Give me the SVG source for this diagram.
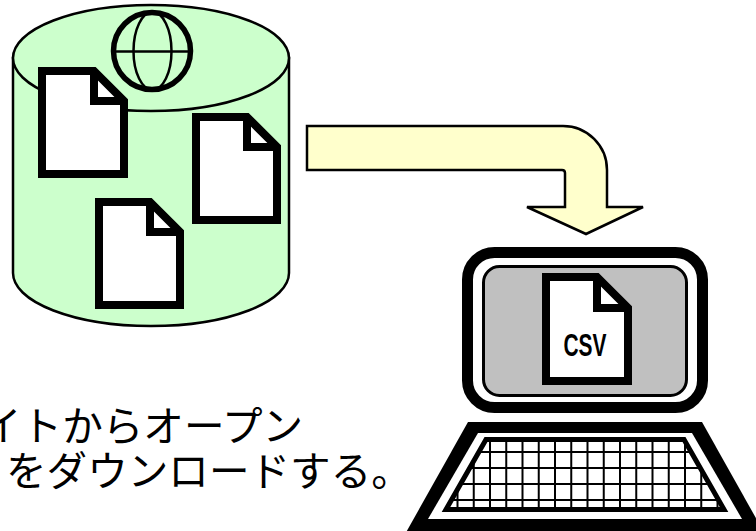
<svg xmlns="http://www.w3.org/2000/svg" width="756" height="531" viewBox="0 0 756 531">
  <style>
    .cyl { fill: #CCFFCC; stroke: #000; stroke-width: 2.5; }
    .doc { fill: #fff; stroke: #000; stroke-width: 8; stroke-linejoin: miter; }
    .fold { fill: none; stroke: #000; stroke-width: 8; stroke-linejoin: miter; }
    .globe { fill: none; stroke: #000; }
    .grid line { stroke: #000; stroke-width: 2; }
    .caption { font-family: "Noto Sans CJK JP", "Noto Sans", sans-serif; font-size: 40.6px; fill: #000; }
  </style>
  <defs>
    <clipPath id="keysClip">
      <polygon points="486,439.5 684,439.5 724,509.5 446,509.5"/>
    </clipPath>
  </defs>

  <!-- web server: cylinder with a globe and documents -->
  <g id="server">
    <path class="cyl" d="M13,58 V273 A138,53 0 0 0 289,273 V58 Z"/>
    <ellipse class="cyl" cx="151" cy="58" rx="138" ry="53"/>
    <g id="globe">
      <circle class="globe" cx="152" cy="51" r="38.5" stroke-width="5.5"/>
      <ellipse class="globe" cx="152.5" cy="51" rx="19" ry="39" stroke-width="2.5"/>
      <line class="globe" x1="113" y1="51.5" x2="191" y2="51.5" stroke-width="2.5"/>
    </g>
    <g id="doc1">
      <path class="doc" d="M42,71 H94 L124,101 V174 H42 Z"/>
      <path class="fold" d="M94,71 V101 H124"/>
    </g>
    <g id="doc2">
      <path class="doc" d="M196,117 H247 L277,147 V220 H196 Z"/>
      <path class="fold" d="M247,117 V147 H277"/>
    </g>
    <g id="doc3">
      <path class="doc" d="M99,202 H150 L180,232 V305 H99 Z"/>
      <path class="fold" d="M150,202 V232 H180"/>
    </g>
  </g>

  <!-- download flow -->
  <g id="connectors">
    <path d="M307,126 H563 A44,44 0 0 1 607,170 V207 H643 L586,234 L527,207 H565 V173 Q565,170 562,170 H307 Z"
          fill="#FFFFCC" stroke="#000" stroke-width="2.5" stroke-linejoin="miter"/>
  </g>

  <!-- client computer -->
  <g id="computer">
    <g id="monitor">
      <rect x="467.5" y="252.5" width="235" height="155" rx="27" fill="#fff" stroke="#000" stroke-width="11"/>
      <rect x="483.5" y="266.5" width="203" height="129" rx="16" fill="#C0C0C0" stroke="#000" stroke-width="3"/>
      <g id="csvdoc">
        <path class="doc" d="M546,277 H597 L628,308 V381 H546 Z"/>
        <path class="fold" d="M597,277 V308 H628"/>
        <text x="585" y="356" text-anchor="middle" font-family="'Liberation Sans', Arial, sans-serif" font-weight="bold" font-size="31" textLength="43" lengthAdjust="spacingAndGlyphs">CSV</text>
      </g>
    </g>
    <g id="keyboard">
      <polygon points="468,422 702,422 766,536 404,536" fill="#000"/>
      <polygon points="478,433 692,433 742,519 428,519" fill="#fff"/>
      <g class="grid" clip-path="url(#keysClip)">
        <line x1="441.25" y1="430" x2="441.25" y2="520"/>
        <line x1="457.5" y1="430" x2="457.5" y2="520"/>
        <line x1="473.75" y1="430" x2="473.75" y2="520"/>
        <line x1="490" y1="430" x2="490" y2="520"/>
        <line x1="506.25" y1="430" x2="506.25" y2="520"/>
        <line x1="522.5" y1="430" x2="522.5" y2="520"/>
        <line x1="538.75" y1="430" x2="538.75" y2="520"/>
        <line x1="555" y1="430" x2="555" y2="520"/>
        <line x1="571.25" y1="430" x2="571.25" y2="520"/>
        <line x1="587.5" y1="430" x2="587.5" y2="520"/>
        <line x1="603.75" y1="430" x2="603.75" y2="520"/>
        <line x1="620" y1="430" x2="620" y2="520"/>
        <line x1="636.25" y1="430" x2="636.25" y2="520"/>
        <line x1="652.5" y1="430" x2="652.5" y2="520"/>
        <line x1="668.75" y1="430" x2="668.75" y2="520"/>
        <line x1="685" y1="430" x2="685" y2="520"/>
        <line x1="701.25" y1="430" x2="701.25" y2="520"/>
        <line x1="717.5" y1="430" x2="717.5" y2="520"/>
        <line x1="733.75" y1="430" x2="733.75" y2="520"/>
        <line x1="430" y1="452" x2="740" y2="452"/>
        <line x1="430" y1="468" x2="740" y2="468"/>
        <line x1="430" y1="484" x2="740" y2="484"/>
        <line x1="430" y1="500" x2="740" y2="500"/>
      </g>
      <polygon points="486,439.5 684,439.5 724,509.5 446,509.5" fill="none" stroke="#000" stroke-width="5"/>
    </g>
  </g>

  <!-- caption -->
  <g id="caption">
    <text class="caption" x="-19" y="441">イトからオープン</text>
    <text class="caption" x="6" y="486">をダウンロードする。</text>
  </g>
</svg>
